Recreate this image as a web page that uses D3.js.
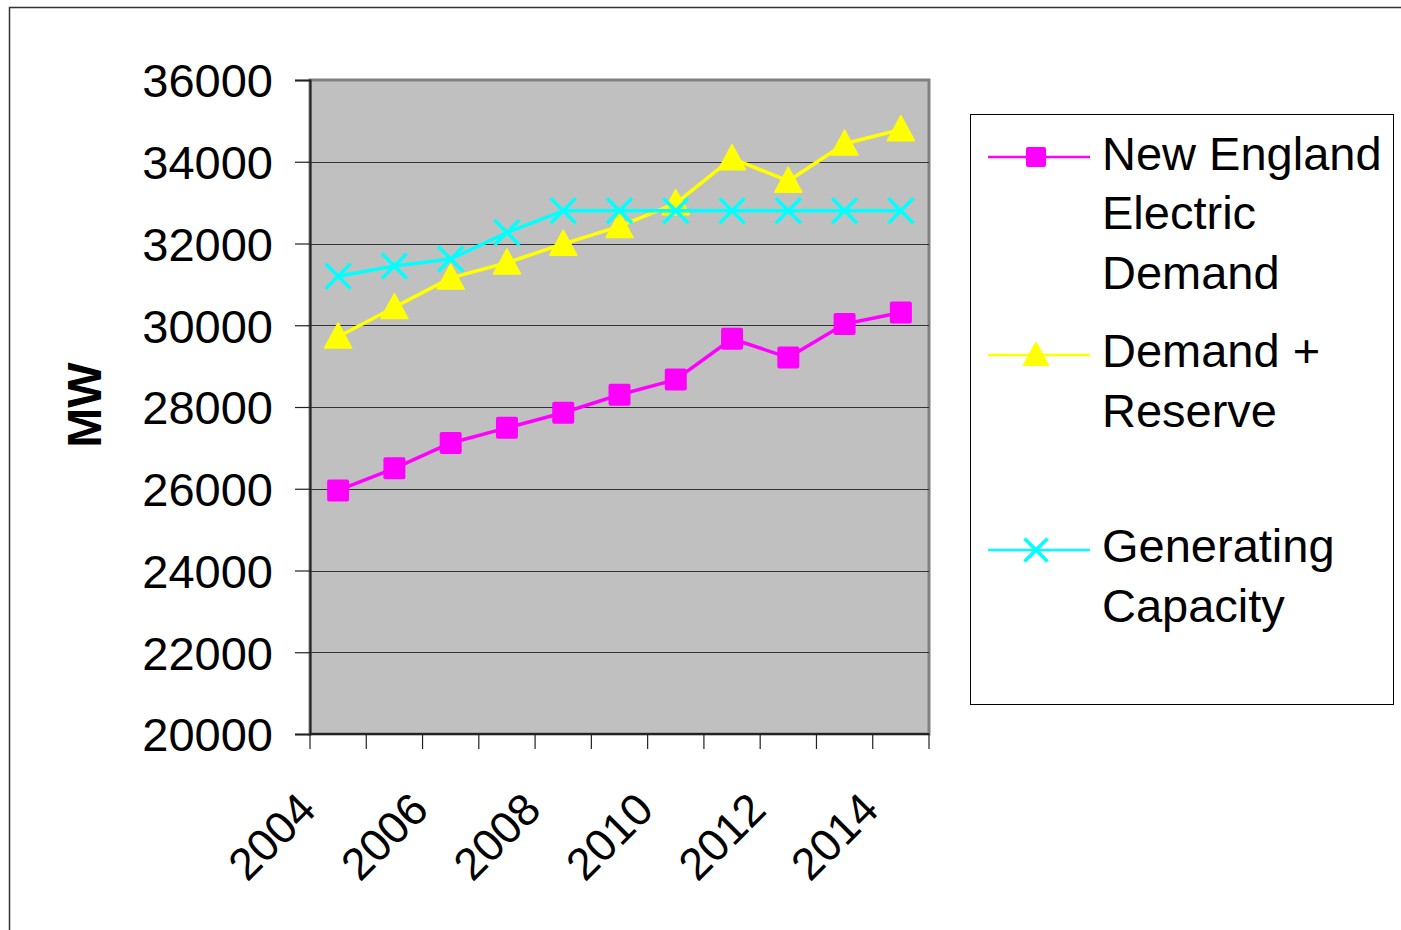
<!DOCTYPE html>
<html>
<head>
<meta charset="utf-8">
<script src="https://cdn.jsdelivr.net/npm/d3@7"></script>
<style>
  html, body { margin: 0; padding: 0; background: #ffffff; }
  svg { display: block; }
  text { font-family: "Liberation Sans", Arial, sans-serif; fill: #000; }
</style>
</head>
<body>
<svg id="chart" width="1401" height="930"></svg>
<script>
// Years on the category axis
const years = [2004, 2005, 2006, 2007, 2008, 2009, 2010, 2011, 2012, 2013, 2014];
// Only every other year carries a label
const yearLabels = [2004, 2006, 2008, 2010, 2012, 2014];
// Value axis ticks (MW)
const mwTicks = [20000, 22000, 24000, 26000, 28000, 30000, 32000, 34000, 36000];

// Series values (MW)
const demand   = [25960, 26500, 27120, 27490, 27860, 28300, 28670, 29670, 29210, 30030, 30310];
const reserve  = [29720, 30440, 31160, 31530, 31990, 32420, 32980, 34080, 33530, 34440, 34790];
const capacity = [31200, 31450, 31620, 32270, 32800, 32800, 32800, 32800, 32800, 32800, 32800];

const seriesNames = [["New England", "Electric", "Demand"], ["Demand +", "Reserve"], ["Generating", "Capacity"]];
const seriesColors = ["#ff00ff", "#ffff00", "#00ffff"];
const seriesMarkers = ["square", "triangle", "cross"];
const seriesValues = [demand, reserve, capacity];

const svg = d3.select("#chart");

// Outer chart frame
svg.append("rect")
  .attr("x", 9.5).attr("y", 7.5)
  .attr("width", 1400).attr("height", 930)
  .attr("fill", "none").attr("stroke", "#333").attr("stroke-width", 1.5);

const plot = { left: 310, right: 929, top: 80, bottom: 734 };

const x = d3.scaleBand().domain(years).range([plot.left, plot.right]);
const y = d3.scaleLinear().domain([20000, 36000]).range([plot.bottom, plot.top]);
const cx = d => x(d) + x.bandwidth() / 2;

// Plot area background with its grey frame
svg.append("rect")
  .attr("x", plot.left).attr("y", plot.top)
  .attr("width", plot.right - plot.left).attr("height", plot.bottom - plot.top)
  .attr("fill", "#c0c0c0")
  .attr("stroke", "#808080").attr("stroke-width", 3);

// Horizontal gridlines
svg.append("g").selectAll("line")
  .data(mwTicks.filter(t => t > 20000 && t < 36000))
  .join("line")
  .attr("x1", plot.left).attr("x2", plot.right)
  .attr("y1", d => Math.round(y(d)) + 0.5).attr("y2", d => Math.round(y(d)) + 0.5)
  .attr("stroke", "#333").attr("stroke-width", 1.2);

// Value axis
const yAxis = svg.append("g")
  .attr("transform", `translate(${plot.left},0)`)
  .call(d3.axisLeft(y).tickValues(mwTicks).tickSize(15).tickPadding(22).tickFormat(d3.format("d")));
yAxis.select(".domain").attr("stroke", "#222").attr("stroke-width", 2);
yAxis.selectAll(".tick line").attr("stroke", "#222").attr("stroke-width", 1.2);
yAxis.selectAll(".tick text")
  .attr("font-size", 47).attr("font-family", "Liberation Sans, Arial, sans-serif")
  .attr("fill", "#000").attr("dy", "0.36em");

// Category axis: ticks on the category boundaries
const xAxisG = svg.append("g");
xAxisG.append("line")
  .attr("x1", plot.left).attr("x2", plot.right)
  .attr("y1", plot.bottom).attr("y2", plot.bottom)
  .attr("stroke", "#222").attr("stroke-width", 2);
const boundaries = years.map(d => x(d)).concat([x(years[years.length - 1]) + x.bandwidth()]);
xAxisG.selectAll("line.tick")
  .data(boundaries)
  .join("line")
  .attr("class", "tick")
  .attr("x1", d => d).attr("x2", d => d)
  .attr("y1", plot.bottom).attr("y2", plot.bottom + 15)
  .attr("stroke", "#222").attr("stroke-width", 1.2);
xAxisG.selectAll("text")
  .data(yearLabels)
  .join("text")
  .attr("transform", d => `translate(${cx(d) - 20},${plot.bottom + 78}) rotate(-45)`)
  .attr("text-anchor", "end")
  .attr("font-size", 45)
  .text(d => d);

// Axis title
svg.append("text")
  .attr("transform", "translate(101,405) rotate(-90)")
  .attr("text-anchor", "middle")
  .attr("font-size", 48).attr("font-weight", "bold")
  .text("MW");

// Marker drawing
function drawMarker(g, type, color, size) {
  if (type === "square") {
    g.append("rect")
      .attr("x", -size / 2).attr("y", -size / 2)
      .attr("width", size).attr("height", size)
      .attr("rx", 2)
      .attr("fill", color);
  } else if (type === "triangle") {
    const h = size;
    g.append("path")
      .attr("d", `M0,${-h * 0.55} L${size / 2 + 1},${h * 0.45} L${-size / 2 - 1},${h * 0.45} Z`)
      .attr("fill", color).attr("stroke", color).attr("stroke-width", 1.5)
      .attr("stroke-linejoin", "round");
  } else {
    const s = size / 2;
    g.append("path")
      .attr("d", `M${-s},${-s} L${s},${s} M${-s},${s} L${s},${-s}`)
      .attr("stroke", color).attr("stroke-width", 3.5).attr("fill", "none");
  }
}

const line = d3.line().x((d, i) => cx(years[i])).y(d => y(d));

seriesValues.forEach((vals, k) => {
  const g = svg.append("g");
  g.append("path")
    .datum(vals)
    .attr("d", line)
    .attr("fill", "none")
    .attr("stroke", seriesColors[k])
    .attr("stroke-width", 3.5)
    .attr("stroke-linejoin", "round");
  vals.forEach((v, i) => {
    const m = g.append("g").attr("transform", `translate(${cx(years[i])},${y(v)})`);
    drawMarker(m, seriesMarkers[k], seriesColors[k], seriesMarkers[k] === "square" ? 22 : 25);
  });
});

// Legend
const legend = svg.append("g");
legend.append("rect")
  .attr("x", 970.5).attr("y", 114.5)
  .attr("width", 423).attr("height", 590)
  .attr("fill", "#fff").attr("stroke", "#000").attr("stroke-width", 1);

const legendRows = [
  { markY: 157, baselines: [170, 229, 289] },
  { markY: 355, baselines: [367, 427] },
  { markY: 550, baselines: [562, 622] }
];

legendRows.forEach((row, k) => {
  legend.append("line")
    .attr("x1", 988).attr("x2", 1090)
    .attr("y1", row.markY).attr("y2", row.markY)
    .attr("stroke", seriesColors[k]).attr("stroke-width", 2.5);
  const m = legend.append("g").attr("transform", `translate(1036,${row.markY})`);
  drawMarker(m, seriesMarkers[k], seriesColors[k], seriesMarkers[k] === "square" ? 20 : 23);
  seriesNames[k].forEach((t, j) => {
    legend.append("text")
      .attr("x", 1102).attr("y", row.baselines[j])
      .attr("font-size", 47)
      .text(t);
  });
});
</script>
</body>
</html>
